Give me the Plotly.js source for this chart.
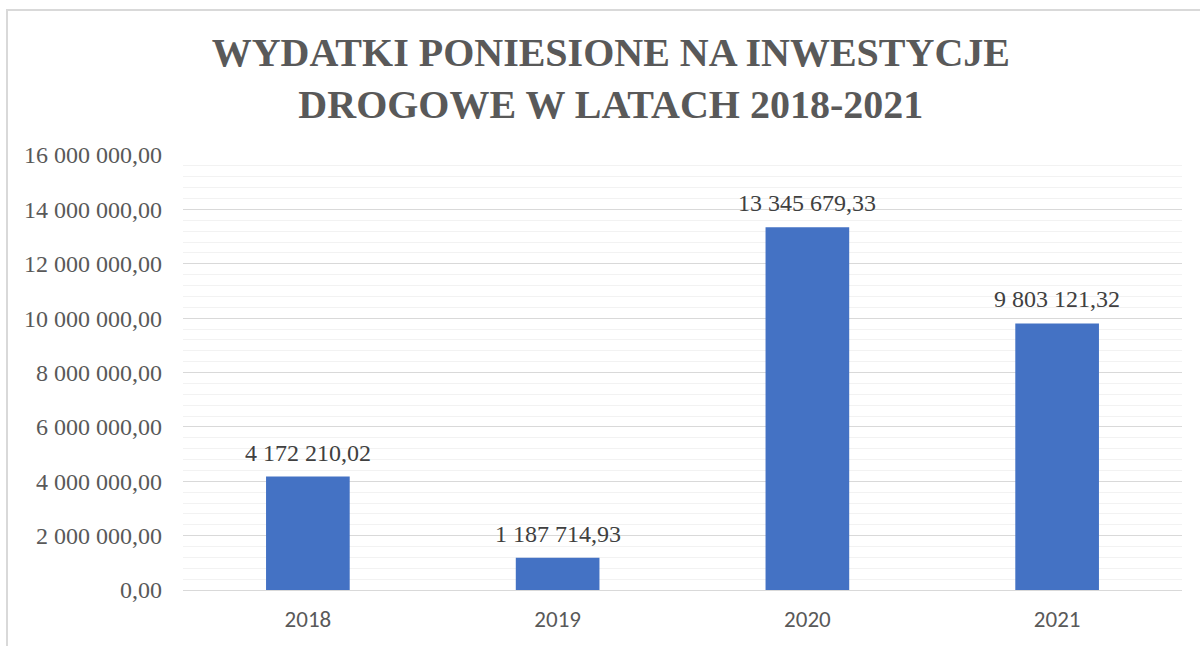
<!DOCTYPE html>
<html>
<head>
<meta charset="utf-8">
<script src="https://cdn.plot.ly/plotly-3.0.1.min.js"></script>
<style>
  html, body { margin: 0; padding: 0; background: #fff; }
  #chart { width: 1200px; height: 646px; }
</style>
</head>
<body>
<div id="chart"></div>
<script>
const years = ['2018', '2019', '2020', '2021'];
const spending = [4172210.02, 1187714.93, 13345679.33, 9803121.32];
const yTicks = [0, 2000000, 4000000, 6000000, 8000000, 10000000, 12000000, 14000000, 16000000];

const serif = 'Liberation Serif, Times New Roman, serif';

// format numbers like "4 172 210,02"
function plNumber(v) {
  const parts = v.toFixed(2).split('.');
  return parts[0].replace(/\B(?=(\d{3})+(?!\d))/g, ' ') + ',' + parts[1];
}

const trace = {
  type: 'bar',
  x: years,
  y: spending,
  marker: {color: '#4472c4'},
  hoverinfo: 'skip'
};

// value labels above each bar
const labels = years.map((yr, i) => ({
  x: i,
  y: spending[i],
  xref: 'x',
  yref: 'y',
  text: plNumber(spending[i]),
  showarrow: false,
  yanchor: 'bottom',
  yshift: 9,
  font: {family: serif, size: 24, color: '#404040'}
}));

const layout = {
  width: 1200,
  height: 646,
  paper_bgcolor: '#fff',
  plot_bgcolor: '#fff',
  margin: {l: 183, r: 18, t: 155, b: 56},
  bargap: 0.665,
  showlegend: false,
  title: {
    text: 'WYDATKI PONIESIONE NA INWESTYCJE<br>DROGOWE W LATACH 2018-2021',
    font: {family: serif, size: 40, color: '#595959', weight: 700},
    xref: 'container',
    x: 0.509,
    xanchor: 'center',
    yref: 'container',
    y: 1 - 66 / 646,
    yanchor: 'middle'
  },
  xaxis: {
    type: 'category',
    categoryarray: years,
    range: [-0.5, 3.5],
    tickfont: {family: 'Carlito, Liberation Sans, sans-serif', size: 23, color: '#595959'},
    showline: false,
    ticks: '',
    ticklabelstandoff: 13
  },
  yaxis: {
    range: [0, 16000000],
    tickvals: yTicks,
    ticktext: yTicks.map(plNumber),
    tickfont: {family: serif, size: 24, color: '#595959'},
    showgrid: true,
    gridcolor: '#d9d9d9',
    gridwidth: 1,
    zeroline: true,
    zerolinecolor: '#d9d9d9',
    zerolinewidth: 1,
    ticks: '',
    ticklabelstandoff: 20,
    minor: {dtick: 400000, showgrid: true, gridcolor: '#f2f2f2', gridwidth: 1}
  },
  annotations: labels,
  shapes: [{
    type: 'rect',
    xref: 'paper', yref: 'paper',
    x0: (7 - 183) / 999, x1: (1210 - 183) / 999,
    y0: (590 - 660) / 435, y1: (590 - 10) / 435,
    line: {color: '#d9d9d9', width: 2},
    layer: 'below'
  }]
};

Plotly.newPlot('chart', [trace], layout, {displayModeBar: false, staticPlot: true});
</script>
</body>
</html>
